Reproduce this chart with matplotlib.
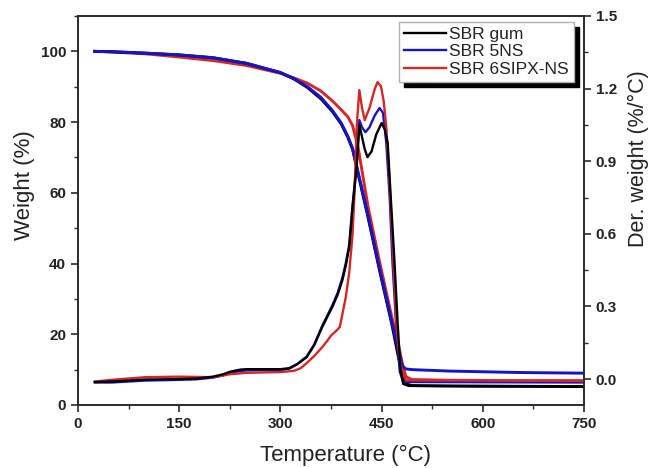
import matplotlib
matplotlib.use("Agg")
import matplotlib.pyplot as plt
from matplotlib.ticker import MultipleLocator

plt.rcParams['font.family'] = ['Liberation Sans', 'DejaVu Sans']

# ---------------- data ----------------
labels = ["SBR gum", "SBR 5NS", "SBR 6SIPX-NS"]
colors = ["#000000", "#1414c8", "#d42828"]

# TG curves (weight %, left axis)
tg_temp = [25, 50, 100, 150, 200, 250, 300, 320, 340, 360, 377, 390, 400, 407,
           415, 430, 447, 465, 475, 481, 486, 495, 550, 650, 750]
tg_gum = [100, 99.9, 99.5, 99.0, 98.2, 96.6, 94.0, 92.2, 89.8, 86.6, 83.0, 79.5,
          75.7, 72.3, 65.5, 53.0, 38.0, 23.0, 13.5, 8.0, 6.0, 5.5, 5.4, 5.3, 5.2]
tg_5ns = [100, 99.9, 99.5, 99.0, 98.2, 96.6, 94.0, 92.3, 90.0, 87.0, 83.3, 79.8,
          76.0, 72.5, 66.0, 53.5, 38.5, 23.5, 15.5, 11.0, 10.2, 10.0, 9.6, 9.2, 9.0]
tg_6sipx = [100, 99.8, 99.3, 98.4, 97.4, 96.0, 93.8, 92.5, 91.0, 88.8, 86.0, 83.5,
            81.5, 79.0, 73.0, 56.0, 40.5, 25.0, 17.0, 11.5, 8.0, 7.2, 7.0, 6.9, 6.9]

# DTG curves (%/°C, right axis)
dtg_temp_gum = [25, 50, 100, 150, 175, 200, 215, 225, 240, 250, 275, 300, 313, 325,
                339, 350, 362, 370, 377, 385, 392, 397, 402, 407, 413, 417, 421,
                425, 429, 435, 442, 450, 455, 459, 464, 469, 474, 478, 482, 490,
                600, 750]
dtg_gum = [-0.012, -0.01, -0.002, 0.0, 0.002, 0.01, 0.02, 0.03, 0.039, 0.041, 0.041,
           0.041, 0.045, 0.062, 0.091, 0.14, 0.215, 0.26, 0.298, 0.35, 0.41, 0.47,
           0.545, 0.71, 0.876, 1.05, 1.0, 0.95, 0.917, 0.94, 1.01, 1.058, 1.03,
           0.975, 0.73, 0.49, 0.22, 0.04, -0.02, -0.028, -0.03, -0.03]

dtg_temp_5ns = [25, 50, 100, 150, 175, 200, 215, 225, 240, 250, 275, 300, 313, 325,
                339, 350, 362, 370, 377, 385, 392, 397, 402, 407, 413, 417, 421,
                426, 432, 440, 447, 452, 457, 462, 466, 472, 477, 482, 490, 600, 750]
dtg_5ns = [-0.014, -0.014, -0.006, -0.003, -0.001, 0.006, 0.015, 0.025, 0.033, 0.036,
           0.037, 0.037, 0.043, 0.062, 0.093, 0.142, 0.22, 0.265, 0.305, 0.357,
           0.42, 0.48, 0.555, 0.72, 0.89, 1.07, 1.04, 1.02, 1.04, 1.09, 1.12,
           1.10, 0.975, 0.75, 0.49, 0.2, 0.03, -0.01, -0.012, -0.013, -0.014]

dtg_temp_6sipx = [25, 50, 100, 150, 200, 225, 250, 300, 320, 330, 339, 350, 362, 370,
                  375, 383, 388, 392, 397, 402, 407, 410, 413, 417, 421, 425, 432,
                  440, 444, 449, 453, 457, 461, 465, 469, 472, 476, 480, 486, 600, 750]
dtg_6sipx = [-0.01, -0.003, 0.008, 0.01, 0.008, 0.02, 0.026, 0.029, 0.034, 0.045,
             0.066, 0.095, 0.132, 0.16, 0.18, 0.2, 0.215, 0.27, 0.34, 0.44, 0.6,
             0.78, 1.04, 1.194, 1.12, 1.07, 1.12, 1.2, 1.227, 1.21, 1.15, 1.04,
             0.85, 0.63, 0.4, 0.215, 0.1, 0.037, -0.005, -0.006, -0.008]

x_ticks = [0, 150, 300, 450, 600, 750]
left_ticks = [0, 20, 40, 60, 80, 100]
right_ticks = [0.0, 0.3, 0.6, 0.9, 1.2, 1.5]

# ---------------- figure ----------------
fig = plt.figure(figsize=(6.52, 4.68), dpi=100)
ax = fig.add_axes([78 / 652, 1 - 405 / 468, 506 / 652, 389 / 468])
ax2 = ax.twinx()

tg_all = [tg_gum, tg_5ns, tg_6sipx]
for i in [2, 0, 1]:
    ax.plot(tg_temp, tg_all[i], color=colors[i], lw=2.1, solid_joinstyle='round')

dtg_x = [dtg_temp_gum, dtg_temp_5ns, dtg_temp_6sipx]
dtg_y = [dtg_gum, dtg_5ns, dtg_6sipx]
handles = [None, None, None]
for i in [1, 2, 0]:
    (h,) = ax2.plot(dtg_x[i], dtg_y[i], color=colors[i], lw=1.7,
                    solid_joinstyle='round')
    handles[i] = h

ax.set_xlim(0, 750)
ax.set_ylim(0, 110)
ax2.set_ylim(-0.107, 1.5)

ax.set_xticks(x_ticks)
ax.xaxis.set_minor_locator(MultipleLocator(75))
ax.set_yticks(left_ticks)
ax.yaxis.set_minor_locator(MultipleLocator(10))
ax2.set_yticks(right_ticks)
ax2.set_yticklabels([f"{v:.1f}" for v in right_ticks])
ax2.yaxis.set_minor_locator(MultipleLocator(0.15))

spine_col = "#2a2a2a"
for a in (ax, ax2):
    for s in a.spines.values():
        s.set_color(spine_col)
        s.set_linewidth(1.2)
    a.tick_params(which='major', direction='out', length=5, width=1.2,
                  color=spine_col, pad=3.5, labelsize=11, labelcolor="#222222")
    a.tick_params(which='minor', direction='out', length=3, width=1.0,
                  color=spine_col)
ax.tick_params(axis='y', which='both', right=False)
ax.tick_params(axis='x', which='both', top=False)
for lab in ax.get_xticklabels() + ax.get_yticklabels() + ax2.get_yticklabels():
    lab.set_fontweight('bold')

ax.set_xlabel("Temperature (°C)", fontsize=16, color="#222222")
ax.set_ylabel("Weight (%)", fontsize=16, color="#222222")
ax2.set_ylabel("Der. weight (%/°C)", fontsize=15.5, color="#222222")
ax.xaxis.set_label_coords((345 - 78) / 506, (405 - 445) / 389)
ax.yaxis.set_label_coords((35 - 78) / 506, (405 - 185) / 389)
ax2.yaxis.set_label_coords((628 - 78) / 506, (405 - 159) / 389)

leg = ax2.legend(handles, labels, loc='upper right',
                 bbox_to_anchor=(0.98, 0.985), borderaxespad=0,
                 fontsize=12.5, labelspacing=0.12, borderpad=0.3,
                 handlelength=2.4, handletextpad=0.2, fancybox=False,
                 frameon=True,
                 shadow={'ox': 4, 'oy': -4, 'color': 'black', 'alpha': 1.0})
leg.get_frame().set_edgecolor("#b0b0b0")
leg.get_frame().set_linewidth(1.0)
for t in leg.get_texts():
    t.set_color("#222222")

fig.savefig("out.png", dpi=100)
